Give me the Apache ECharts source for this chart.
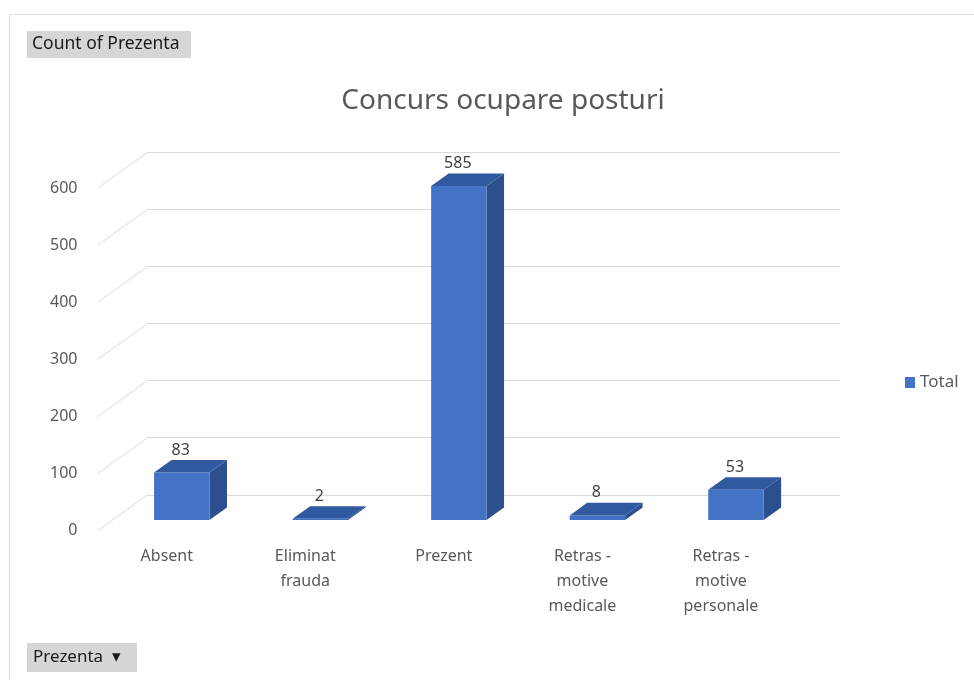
<!DOCTYPE html>
<html>
<head>
<meta charset="utf-8">
<script src="https://cdn.jsdelivr.net/npm/echarts@6/dist/echarts.min.js"></script>
<style>
html, body { margin: 0; padding: 0; background: #fff; }
#chart { width: 974px; height: 680px; }
</style>
</head>
<body>
<div id="chart"></div>
<script>
var categories = ['Absent', 'Eliminat frauda', 'Prezent', 'Retras - motive medicale', 'Retras - motive personale'];
var totals = [83, 2, 585, 8, 53];
var yTicks = [0, 100, 200, 300, 400, 500, 600];

// efectul 3D: deplasari in pixeli fata de planul din fata al barelor
var barDepth = [17.5, -12.6];   // spatele barei
var wallDepth = [35, -25.2];    // peretele din spate
var floorFront = [-15, 10.8];   // marginea din fata a podelei

var plotW = 692.7, plotH = 342.5;
var barLeft = 112.5, barTop = 177.5;

var font = 'Noto Sans';

function wrapLabel(v) {
    // rupe pe spatii, dar tine "-" langa cuvantul dinainte
    return v.replace(/ (?!-)/g, '\n');
}

function renderWall(params, api) {
    var cs = params.coordSys;
    var y = api.coord([0, api.value(1)])[1];
    var dx = floorFront[0] - wallDepth[0];
    var dy = floorFront[1] - wallDepth[1];
    return {
        type: 'line',
        shape: { x1: cs.x, y1: y, x2: cs.x + dx, y2: y + dy },
        style: { stroke: '#d9d9d9', lineWidth: 1 },
        silent: true
    };
}

function renderBar(params, api) {
    var v = api.value(1);
    var base = api.coord([api.value(0), 0]);
    var top = api.coord([api.value(0), v]);
    var w = api.size([1, 0])[0] * 0.4;
    var x0 = base[0] - w / 2, x1 = base[0] + w / 2;
    var dx = barDepth[0], dy = barDepth[1];
    var yt = top[1], yb = base[1];
    return {
        type: 'group',
        children: [
            {
                type: 'polygon',
                shape: { points: [[x1, yt], [x1 + dx, yt + dy], [x1 + dx, yb + dy], [x1, yb]] },
                style: { fill: '#2c4f8f' }
            },
            {
                type: 'rect',
                shape: { x: x0, y: yt, width: w, height: yb - yt },
                style: { fill: '#4472c4' }
            },
            {
                type: 'polygon',
                shape: { points: [[x0, yt], [x1, yt], [x1 + dx, yt + dy], [x0 + dx, yt + dy]] },
                style: { fill: '#3159a0' }
            },
            {
                type: 'text',
                x: base[0] - 1,
                y: yt + dy - 10,
                style: {
                    text: String(v),
                    fill: '#404040',
                    font: '16px "' + font + '"',
                    align: 'center',
                    verticalAlign: 'middle'
                }
            }
        ]
    };
}

var myChart = echarts.init(document.getElementById('chart'));
var option = {
    animation: false,
    backgroundColor: '#fff',
    textStyle: { fontFamily: font },
    title: {
        text: 'Concurs ocupare posturi',
        left: 498,
        top: 82,
        textAlign: 'center',
        textStyle: { fontSize: 28, fontWeight: 'normal', color: '#595959', fontFamily: font }
    },
    legend: {
        data: ['Total'],
        left: 900,
        top: 369,
        icon: 'rect',
        itemWidth: 10,
        itemHeight: 11,
        itemGap: 4,
        textStyle: { fontSize: 17, color: '#595959', fontFamily: font }
    },
    grid: [
        // planul din fata al barelor
        { left: barLeft, top: barTop, width: plotW, height: plotH },
        // peretele din spate
        { left: barLeft + wallDepth[0], top: barTop + wallDepth[1], width: plotW, height: plotH },
        // marginea din fata (etichete)
        { left: barLeft + floorFront[0], top: barTop + floorFront[1], width: plotW, height: plotH }
    ],
    xAxis: [
        { gridIndex: 0, type: 'category', data: categories, show: false },
        { gridIndex: 1, type: 'category', data: categories, show: false },
        {
            gridIndex: 2, type: 'category', data: categories,
            axisLine: { show: false },
            axisTick: { show: false },
            axisLabel: {
                margin: 13, fontSize: 16, lineHeight: 25, color: '#595959',
                fontFamily: font, interval: 0, formatter: wrapLabel
            }
        }
    ],
    yAxis: [
        { gridIndex: 0, type: 'value', min: 0, max: 600, interval: 100, show: false },
        {
            gridIndex: 1, type: 'value', min: 0, max: 600, interval: 100,
            axisLabel: { show: false },
            axisLine: { show: false },
            axisTick: { show: false },
            splitLine: { lineStyle: { color: '#d9d9d9', width: 1 } }
        },
        {
            gridIndex: 2, type: 'value', min: 0, max: 600, interval: 100,
            axisLine: { show: false },
            axisTick: { show: false },
            splitLine: { show: false },
            axisLabel: { margin: 20, fontSize: 16, color: '#595959', fontFamily: font }
        }
    ],
    series: [
        {
            name: 'perete',
            type: 'custom',
            xAxisIndex: 1,
            yAxisIndex: 1,
            silent: true,
            clip: false,
            renderItem: renderWall,
            data: yTicks.map(function (t) { return [0, t]; })
        },
        {
            name: 'Total',
            type: 'custom',
            xAxisIndex: 0,
            yAxisIndex: 0,
            clip: false,
            itemStyle: { color: '#4472c4' },
            renderItem: renderBar,
            encode: { x: 0, y: 1 },
            data: totals.map(function (v, i) { return [i, v]; }),
            z: 5
        }
    ],
    graphic: [
        {
            type: 'rect', left: 7, top: 12, silent: true,
            shape: { width: 975, height: 675 },
            style: { fill: 'none', stroke: '#dedede', lineWidth: 1 }
        },
        {
            type: 'group', left: 27, top: 31,
            children: [
                { type: 'rect', shape: { width: 164, height: 27 }, style: { fill: '#d6d6d6' } },
                {
                    type: 'text', x: 5, y: 13.5,
                    style: { text: 'Count of Prezenta', fill: '#1a1a1a', font: '17.5px "' + font + '"', verticalAlign: 'middle' }
                }
            ]
        },
        {
            type: 'group', left: 27, top: 643,
            children: [
                { type: 'rect', shape: { width: 110, height: 29 }, style: { fill: '#d6d6d6' } },
                {
                    type: 'text', x: 6, y: 14.5,
                    style: { text: 'Prezenta  \u25BE', fill: '#1a1a1a', font: '17px "' + font + '"', verticalAlign: 'middle' }
                }
            ]
        }
    ]
};
myChart.setOption(option);
</script>
</body>
</html>
